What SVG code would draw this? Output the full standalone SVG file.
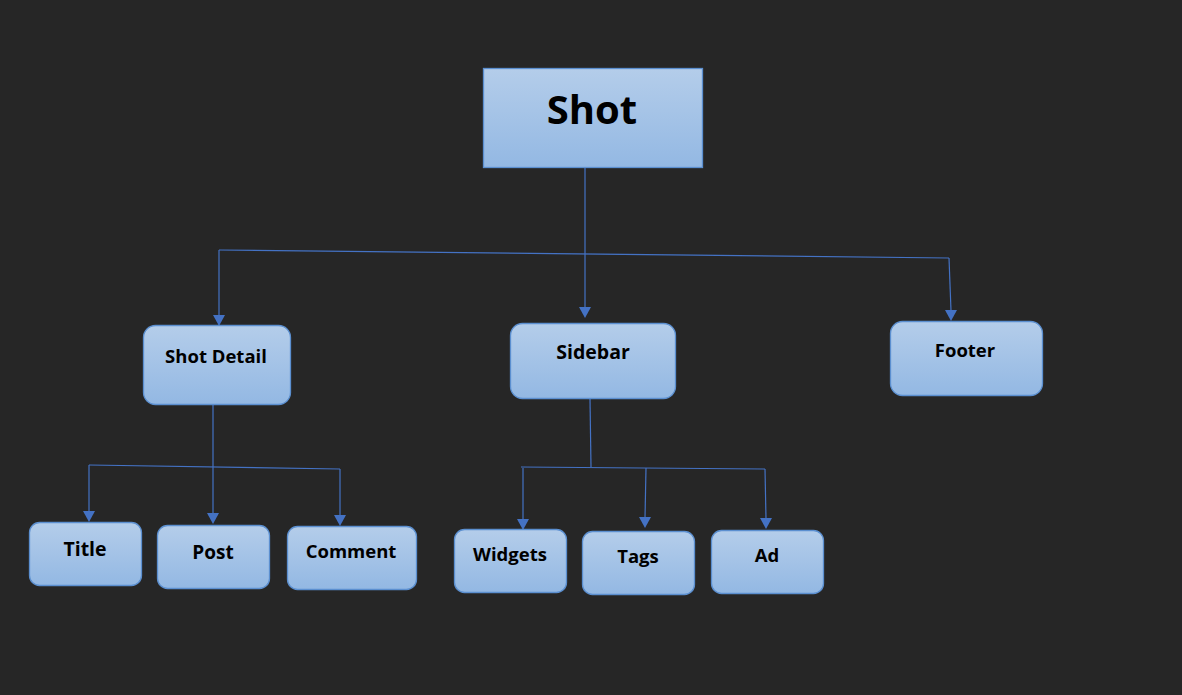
<svg xmlns="http://www.w3.org/2000/svg" width="1182" height="695" viewBox="0 0 1182 695">
<defs>
<linearGradient id="g" x1="0" y1="0" x2="0" y2="1">
<stop offset="0" stop-color="#b4cdea"/>
<stop offset="1" stop-color="#93b8e3"/>
</linearGradient>
<style>
.box{fill:url(#g);stroke:#5b8fd0;stroke-width:1.3}
.t{font-family:"Open Sans","Noto Sans",sans-serif;font-weight:bold;fill:#000;text-anchor:middle;font-size:18.5px}
.c{fill:none;stroke:#4472c4;stroke-width:1.2}
.a{fill:#4472c4}
</style>
</defs>
<rect width="1182" height="695" fill="#262626"/>
<g id="connectors">
<line class="c" x1="585" y1="167" x2="585" y2="250"/>
<line class="c" x1="219" y1="250" x2="949" y2="258"/>
<line class="c" x1="219" y1="250" x2="219" y2="316"/>
<path class="a" d="M213,315 L225,315 L219,326 Z"/>
<line class="c" x1="585" y1="250" x2="585" y2="308"/>
<path class="a" d="M579,307 L591,307 L585,318 Z"/>
<line class="c" x1="949" y1="258" x2="951" y2="311"/>
<path class="a" d="M945,310 L957,310 L951,321 Z"/>
<line class="c" x1="213" y1="404" x2="213" y2="514"/>
<path class="a" d="M207,513 L219,513 L213,524 Z"/>
<line class="c" x1="89" y1="465" x2="340" y2="469"/>
<line class="c" x1="89" y1="465" x2="89" y2="512"/>
<path class="a" d="M83,511 L95,511 L89,522 Z"/>
<line class="c" x1="340" y1="469" x2="340" y2="516"/>
<path class="a" d="M334,515 L346,515 L340,526 Z"/>
<line class="c" x1="590" y1="399" x2="591" y2="467"/>
<line class="c" x1="521" y1="467" x2="765" y2="469"/>
<line class="c" x1="523" y1="468" x2="523" y2="520"/>
<path class="a" d="M517,519 L529,519 L523,530 Z"/>
<line class="c" x1="646" y1="468" x2="645" y2="518"/>
<path class="a" d="M639,517 L651,517 L645,528 Z"/>
<line class="c" x1="765" y1="469" x2="766" y2="519"/>
<path class="a" d="M760,518 L772,518 L766,529 Z"/>
</g>
<g id="shot"><rect class="box" x="483.5" y="68.5" width="219" height="99"/><text class="t" x="592" y="124" style="font-size:40px">Shot</text></g>
<g id="shot-detail"><rect class="box" x="143.5" y="325.5" width="147" height="79" rx="12"/><text class="t" x="216" y="363">Shot Detail</text></g>
<g id="sidebar"><rect class="box" x="510.5" y="323.5" width="165" height="75" rx="12"/><text class="t" x="593" y="359" style="font-size:19.5px">Sidebar</text></g>
<g id="footer"><rect class="box" x="890.5" y="321.5" width="152" height="74" rx="12"/><text class="t" x="965" y="357">Footer</text></g>
<g id="title"><rect class="box" x="29.5" y="522.5" width="112" height="63" rx="10"/><text class="t" x="85" y="556" style="font-size:19.5px">Title</text></g>
<g id="post"><rect class="box" x="157.5" y="525.5" width="112" height="63" rx="10"/><text class="t" x="213" y="559" style="font-size:19px">Post</text></g>
<g id="comment"><rect class="box" x="287.5" y="526.5" width="129" height="63" rx="10"/><text class="t" x="351" y="558">Comment</text></g>
<g id="widgets"><rect class="box" x="454.5" y="529.5" width="112" height="63" rx="10"/><text class="t" x="510" y="561">Widgets</text></g>
<g id="tags"><rect class="box" x="582.5" y="531.5" width="112" height="63" rx="10"/><text class="t" x="638" y="563">Tags</text></g>
<g id="ad"><rect class="box" x="711.5" y="530.5" width="112" height="63" rx="10"/><text class="t" x="767" y="562">Ad</text></g>
</svg>
